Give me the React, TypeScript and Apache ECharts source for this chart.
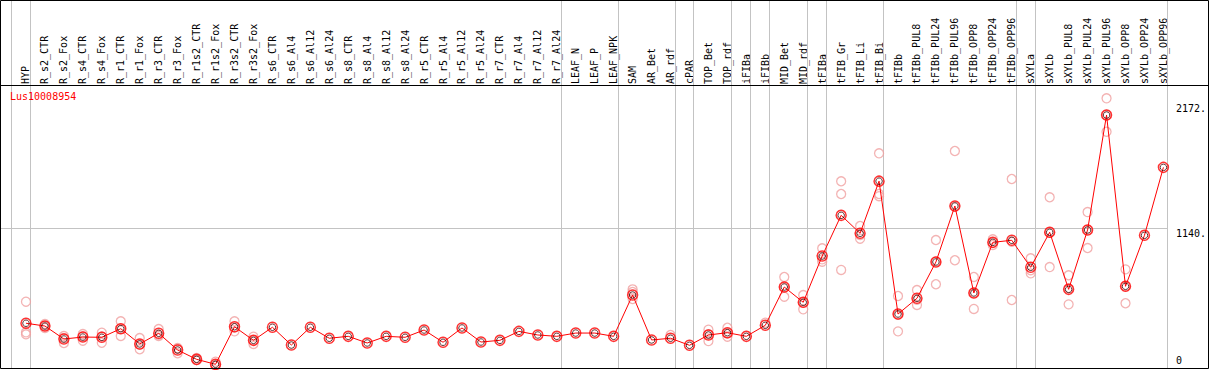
import React, { useEffect, useRef } from 'react';
import * as echarts from 'echarts';

const titleText = 'Lus10008954';

const categories = [
  'HYP', 'R_s2_CTR', 'R_s2_Fox', 'R_s4_CTR', 'R_s4_Fox', 'R_r1_CTR', 'R_r1_Fox', 'R_r3_CTR', 'R_r3_Fox',
  'R_r1s2_CTR', 'R_r1s2_Fox', 'R_r3s2_CTR', 'R_r3s2_Fox', 'R_s6_CTR', 'R_s6_Al4', 'R_s6_Al12', 'R_s6_Al24',
  'R_s8_CTR', 'R_s8_Al4', 'R_s8_Al12', 'R_s8_Al24', 'R_r5_CTR', 'R_r5_Al4', 'R_r5_Al12', 'R_r5_Al24',
  'R_r7_CTR', 'R_r7_Al4', 'R_r7_Al12', 'R_r7_Al24', 'LEAF_N', 'LEAF_P', 'LEAF_NPK', 'SAM', 'AR_Bet', 'AR_rdf',
  'cPAR', 'TOP_Bet', 'TOP_rdf', 'iFIBa', 'iFIBb', 'MID_Bet', 'MID_rdf', 'tFIBa', 'tFIB_Gr', 'tFIB_Li', 'tFIB_Bi',
  'tFIBb', 'tFIBb_PUL8', 'tFIBb_PUL24', 'tFIBb_PUL96', 'tFIBb_OPP8', 'tFIBb_OPP24', 'tFIBb_OPP96', 'sXYLa',
  'sXYLb', 'sXYLb_PUL8', 'sXYLb_PUL24', 'sXYLb_PUL96', 'sXYLb_OPP8', 'sXYLb_OPP24', 'sXYLb_OPP96',
];

const means = [
  353, 330, 223, 239, 237, 308, 182, 270, 132, 55, 14, 324, 212, 320, 173, 320, 229,
  245, 190, 245, 237, 297, 196, 314, 198, 212, 286, 256, 245, 272, 272, 245, 586, 215, 229,
  171, 256, 275, 245, 336, 652, 526, 908, 1244, 1096, 1526,
  429, 559, 859, 1321, 603, 1021, 1038, 815,
  1104, 633, 1123, 2072, 658, 1079, 1640,
];

const replicates: number[][] = [
  [531, 278, 262], [347, 330, 314], [248, 231, 190], [264, 244, 209], [275, 244, 192],
  [369, 307, 248], [231, 177, 138], [305, 257, 248], [148, 143, 105], [66, 50, 49],
  [36, 8, 0], [369, 317, 286], [242, 212, 182], [], [], [], [],
  [], [], [], [], [], [], [], [],
  [], [], [], [], [], [], [], [633, 611, 553], [], [256],
  [], [300, 262, 206], [316, 268, 242], [], [357], [735, 649, 572], [586, 524, 468],
  [972, 881, 861], [1525, 1420, 793], [1156, 1081, 1051], [1756, 1420, 1402],
  [578, 423, 286], [627, 546, 504], [1040, 862, 675], [1775, 1315, 873], [735, 603, 471],
  [1046, 1018, 999], [1544, 1025, 545], [889, 791, 765],
  [1393, 1102, 817], [749, 641, 509], [1271, 1124, 974], [2210, 2072, 1934], [798, 658, 518], [], [],
];

// index of the last category of each group (-1 = before the first)
const separatorsAfter = [-1, 0, 28, 31, 34, 35, 37, 38, 39, 41, 42, 45, 52, 53, 60];
const gridValues = [1140];
const yTickValues = [0, 1140, 2172];
const yMax = 2320;

const MONO = '"DejaVu Sans Mono", "Liberation Mono", monospace';
const GRAY = '#c3c3c3';

export default function App() {
  const ref = useRef<HTMLDivElement>(null);

  useEffect(() => {
    if (!ref.current) return;
    const chart = echarts.init(ref.current, undefined, { renderer: 'svg', width: 1209, height: 370 });

    const repData: number[][] = [];
    replicates.forEach((arr, i) => arr.forEach((v) => repData.push([i, v])));

    const lastSepX = (api: any) => {
      const c0 = api.coord([0, 0])[0];
      const sp = api.size([1, 0])[0];
      return Math.floor(c0 + (categories.length - 1) * sp + 4.5) + 0.5;
    };

    chart.setOption({
      animation: false,
      backgroundColor: '#ffffff',
      title: {
        text: titleText,
        left: 10,
        top: 91,
        padding: 0,
        textStyle: { color: '#ff0000', fontSize: 10, fontFamily: MONO, fontWeight: 'normal' },
      },
      grid: { left: 16.5, right: 33.5, top: 85, bottom: 4, containLabel: false },
      xAxis: {
        type: 'category',
        position: 'top',
        data: categories,
        boundaryGap: true,
        axisLine: { show: false },
        axisTick: { show: false },
        splitLine: { show: false },
        axisLabel: {
          interval: 0,
          rotate: 90,
          margin: 1,
          color: '#000000',
          fontSize: 10,
          fontFamily: MONO,
        },
      },
      yAxis: {
        type: 'value',
        position: 'right',
        min: 0,
        max: yMax,
        axisLine: { show: false },
        axisTick: { show: false },
        splitLine: { show: false },
        axisLabel: {
          customValues: yTickValues,
          margin: 3,
          align: 'left',
          verticalAlign: 'middle',
          formatter: (v: number) => (v === 0 ? '{b|0}' : '{t|' + v + '.}'),
          rich: {
            t: { padding: [12, 0, 0, 0], fontSize: 10, fontFamily: MONO, color: '#000000' },
            b: { padding: [0, 0, 12, 0], fontSize: 10, fontFamily: MONO, color: '#000000' },
          },
        },
      },
      graphic: [
        {
          type: 'rect',
          z: 100,
          silent: true,
          shape: { x: 0.5, y: 0.5, width: 1208, height: 368 },
          style: { fill: 'none', stroke: '#000000', lineWidth: 1 },
        },
        {
          type: 'line',
          z: 100,
          silent: true,
          shape: { x1: 0.5, y1: 85.5, x2: 1208.5, y2: 85.5 },
          style: { stroke: '#000000', lineWidth: 1 },
        },
      ],
      series: [
        {
          type: 'custom',
          silent: true,
          clip: false,
          z: 1,
          data: separatorsAfter.map((k) => [Math.max(0, k), 0]),
          renderItem: (params: any, api: any) => {
            const k = separatorsAfter[params.dataIndex];
            const c0 = api.coord([0, 0])[0];
            const sp = api.size([1, 0])[0];
            const x = Math.floor(c0 + k * sp + 4.5) + 0.5;
            return {
              type: 'line',
              shape: { x1: x, y1: 0, x2: x, y2: 368 },
              style: { stroke: GRAY, lineWidth: 1 },
            };
          },
        },
        {
          type: 'custom',
          silent: true,
          clip: false,
          z: 1,
          data: gridValues.map((v) => [0, v]),
          renderItem: (params: any, api: any) => {
            const y = Math.round(api.coord([0, gridValues[params.dataIndex]])[1]) + 0.5;
            return {
              type: 'line',
              shape: { x1: 0.5, y1: y, x2: lastSepX(api), y2: y },
              style: { stroke: GRAY, lineWidth: 1 },
            };
          },
        },
        {
          type: 'scatter',
          silent: true,
          z: 2,
          symbol: 'circle',
          symbolSize: 9,
          data: repData,
          itemStyle: { color: 'rgba(255,255,255,0)', borderColor: '#f0a0a0', borderWidth: 1.3 },
        },
        {
          type: 'line',
          silent: true,
          z: 3,
          data: means,
          symbol: 'none',
          lineStyle: { color: '#ff0000', width: 1 },
        },
        {
          type: 'scatter',
          silent: true,
          z: 4,
          symbol: 'circle',
          symbolSize: 10,
          data: means.map((v, i) => [i, v]),
          itemStyle: { color: 'rgba(255,255,255,0)', borderColor: '#ff0000', borderWidth: 1.5 },
        },
        {
          type: 'scatter',
          silent: true,
          z: 5,
          symbol: 'circle',
          symbolSize: 6.5,
          data: means.map((v, i) => [i, v]),
          itemStyle: { color: 'rgba(255,255,255,0)', borderColor: '#330000', borderWidth: 1 },
        },
      ],
    });

    return () => chart.dispose();
  }, []);

  return (
    <div
      ref={ref}
      style={{ position: 'fixed', left: 0, top: 0, width: 1209, height: 370, background: '#ffffff' }}
    />
  );
}
